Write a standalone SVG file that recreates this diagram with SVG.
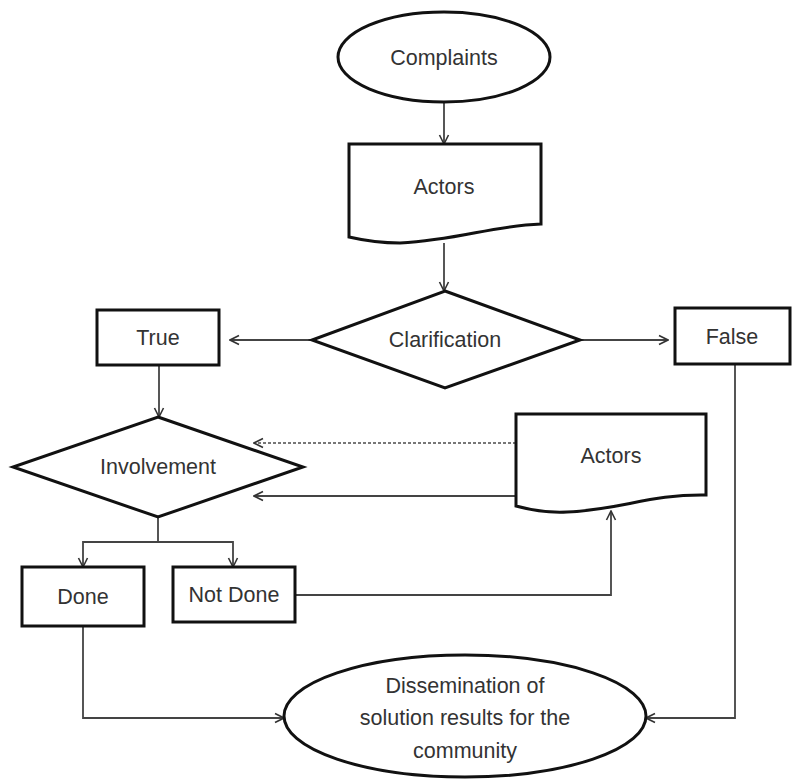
<svg xmlns="http://www.w3.org/2000/svg" width="792" height="779" viewBox="0 0 792 779">
  <defs>
    <marker id="arr" viewBox="0 0 12 12" refX="11" refY="6" markerWidth="12" markerHeight="12" markerUnits="userSpaceOnUse" orient="auto">
      <path d="M2,1.5 L11,6 L2,10.5" fill="none" stroke="#333" stroke-width="1.6"/>
    </marker>
  </defs>
  <style>
    .shape { fill: #fff; stroke: #111; stroke-width: 3; }
    .conn { fill: none; stroke: #444; stroke-width: 1.8; }
    .dash { stroke-dasharray: 3 2; stroke: #777; }
    text { font-family: "Liberation Sans", Arial, sans-serif; font-size: 21.5px; fill: #333; text-anchor: middle; dominant-baseline: central; }
  </style>
  <rect width="792" height="779" fill="#fff"/>

  <g id="connectors">
    <line class="conn" x1="444" y1="102" x2="444" y2="144" marker-end="url(#arr)"/>
    <line class="conn" x1="444" y1="243" x2="444" y2="291" marker-end="url(#arr)"/>
    <line class="conn" x1="312" y1="340" x2="230" y2="340" marker-end="url(#arr)"/>
    <line class="conn" x1="580" y1="340" x2="668" y2="340" marker-end="url(#arr)"/>
    <line class="conn" x1="159" y1="365" x2="159" y2="417" marker-end="url(#arr)"/>
    <line class="conn dash" x1="516" y1="443" x2="254" y2="443" marker-end="url(#arr)"/>
    <line class="conn" x1="516" y1="496" x2="254" y2="496" marker-end="url(#arr)"/>
    <polyline class="conn" points="158,517 158,542 83,542 83,567" marker-end="url(#arr)"/>
    <polyline class="conn" points="158,542 233,542 233,567" marker-end="url(#arr)"/>
    <polyline class="conn" points="295,595 611,595 611,511" marker-end="url(#arr)"/>
    <polyline class="conn" points="83,626 83,718 284,718" marker-end="url(#arr)"/>
    <polyline class="conn" points="735,364 735,718 646,718" marker-end="url(#arr)"/>
  </g>

  <g id="complaints">
    <ellipse class="shape" cx="444" cy="57" rx="106" ry="45"/>
    <text x="444" y="58">Complaints</text>
  </g>

  <g id="actors-top">
    <path class="shape" d="M349,144 H541 V224 C490,226 460,240 400,243 C380,243 362,240 349,237 Z"/>
    <text x="444" y="187">Actors</text>
  </g>

  <g id="clarification">
    <polygon class="shape" points="445,291 580,340 445,388 312,340"/>
    <text x="445" y="340">Clarification</text>
  </g>

  <g id="true">
    <rect class="shape" x="97" y="310" width="122" height="55"/>
    <text x="158" y="338">True</text>
  </g>

  <g id="false">
    <rect class="shape" x="675" y="308" width="115" height="56"/>
    <text x="732" y="337">False</text>
  </g>

  <g id="involvement">
    <polygon class="shape" points="158,417 303,467 158,517 13,467"/>
    <text x="158" y="467">Involvement</text>
  </g>

  <g id="actors-side">
    <path class="shape" d="M516,414 H706 V495 C650,494 620,510 567,512 C545,513 530,510 516,506 Z"/>
    <text x="611" y="456">Actors</text>
  </g>

  <g id="done">
    <rect class="shape" x="22" y="567" width="122" height="59"/>
    <text x="83" y="597">Done</text>
  </g>

  <g id="not-done">
    <rect class="shape" x="173" y="567" width="122" height="55"/>
    <text x="234" y="595">Not Done</text>
  </g>

  <g id="dissemination">
    <ellipse class="shape" cx="465" cy="716" rx="181" ry="61"/>
    <text x="465" y="686">Dissemination of</text>
    <text x="465" y="718">solution results for the</text>
    <text x="465" y="751">community</text>
  </g>
</svg>
